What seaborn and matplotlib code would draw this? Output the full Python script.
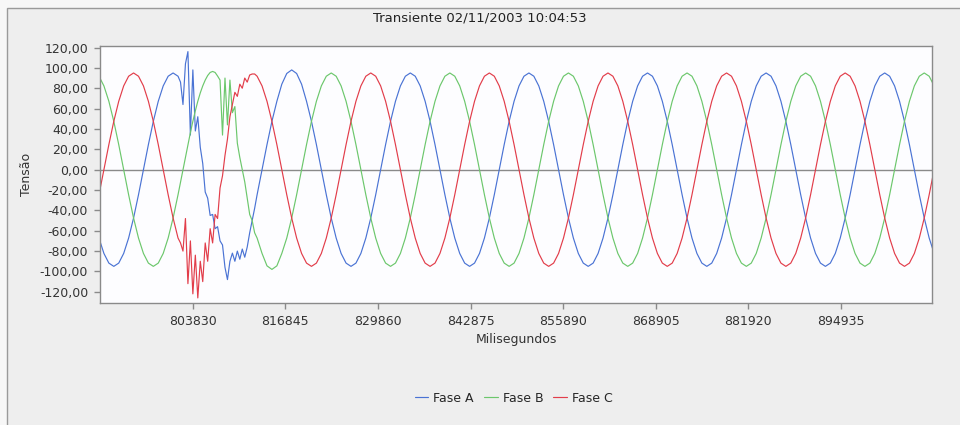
import numpy as np
import pandas as pd
import matplotlib.pyplot as plt
from matplotlib.patches import Rectangle
import seaborn as sns

# sampling: coarse grid of T/24, finer (T/48) inside the transient window
t_start = 790658
dt = 694.46

fases = ['Fase A', 'Fase B', 'Fase C']
cores = {'Fase A': '#4a73d4', 'Fase B': '#6cc76c', 'Fase C': '#e23d4a'}

# values (Tensão), before the transient
a_pre = [-67.2, -82.3, -91.8, -95.0, -91.8, -82.3, -67.2, -47.5, -24.6, 0.0, 24.6, 47.5,
         67.2, 82.3, 91.8, 95.0, 91.8]
b_pre = [91.8, 82.3, 67.2, 47.5, 24.6, 0.0, -24.6, -47.5, -67.2, -82.3, -91.8, -95.0,
         -91.8, -82.3, -67.2, -47.5, -24.6]
c_pre = [-24.6, 0.0, 24.6, 47.5, 67.2, 82.3, 91.8, 95.0, 91.8, 82.3, 67.2, 47.5,
         24.6, 0.0, -24.6, -47.5, -67.2]

# the transient (half-step samples)
a_tr = [86.0, 64.0, 104.0, 116.0, 34.0, 98.0, 38.0, 52.0, 22.0, 6.0, -22.0, -28.0,
        -45.0, -44.0, -58.0, -56.0, -70.0, -74.0, -96.0, -108.0, -90.0, -82.0, -90.0, -80.0,
        -88.0, -78.0, -86.0, -76.0, -62.0, -50.0, -38.0]
b_tr = [-12.4, 0.0, 12.4, 24.6, 36.4, 47.5, 57.8, 67.2, 75.4, 82.3, 88.0, 92.5,
        95.5, 96.5, 95.5, 92.0, 88.0, 34.0, 90.0, 44.0, 88.0, 56.0, 62.0, 26.0,
        12.0, 0.0, -12.0, -28.0, -44.0, -50.0, -62.0]
c_tr = [-72.0, -80.0, -48.0, -112.0, -70.0, -122.0, -84.0, -126.0, -90.0, -110.0, -72.0, -90.0,
        -58.0, -72.0, -44.0, -48.0, -18.0, -6.0, 14.0, 30.0, 52.0, 64.0, 76.0, 72.0,
        84.0, 80.0, 90.0, 86.0, 93.0, 94.0, 94.0]

# after the transient, one row per cycle
a_pos = [-24.6, 0.0, 24.6, 47.5, 67.2, 84.0, 94.5, 98.0, 94.5, 84.0, 67.2, 47.5, 24.6, 0.0, -24.6, -47.5, -67.2, -82.3, -91.8, -95.0, -91.8, -82.3, -67.2, -47.5,
         -24.6, 0.0, 24.6, 47.5, 67.2, 82.3, 91.8, 95.0, 91.8, 82.3, 67.2, 47.5, 24.6, 0.0, -24.6, -47.5, -67.2, -82.3, -91.8, -95.0, -91.8, -82.3, -67.2, -47.5,
         -24.6, 0.0, 24.6, 47.5, 67.2, 82.3, 91.8, 95.0, 91.8, 82.3, 67.2, 47.5, 24.6, 0.0, -24.6, -47.5, -67.2, -82.3, -91.8, -95.0, -91.8, -82.3, -67.2, -47.5,
         -24.6, 0.0, 24.6, 47.5, 67.2, 82.3, 91.8, 95.0, 91.8, 82.3, 67.2, 47.5, 24.6, 0.0, -24.6, -47.5, -67.2, -82.3, -91.8, -95.0, -91.8, -82.3, -67.2, -47.5,
         -24.6, 0.0, 24.6, 47.5, 67.2, 82.3, 91.8, 95.0, 91.8, 82.3, 67.2, 47.5, 24.6, 0.0, -24.6, -47.5, -67.2, -82.3, -91.8, -95.0, -91.8, -82.3, -67.2, -47.5,
         -24.6, 0.0, 24.6, 47.5, 67.2, 82.3, 91.8, 95.0, 91.8, 82.3, 67.2, 47.5, 24.6, 0.0, -24.6, -47.5, -67.2, -82.3]
b_pos = [-67.2, -82.3, -94.5, -98.0, -94.5, -82.3, -67.2, -47.5, -24.6, 0.0, 24.6, 47.5, 67.2, 82.3, 91.8, 95.0, 91.8, 82.3, 67.2, 47.5, 24.6, 0.0, -24.6, -47.5,
         -67.2, -82.3, -91.8, -95.0, -91.8, -82.3, -67.2, -47.5, -24.6, 0.0, 24.6, 47.5, 67.2, 82.3, 91.8, 95.0, 91.8, 82.3, 67.2, 47.5, 24.6, 0.0, -24.6, -47.5,
         -67.2, -82.3, -91.8, -95.0, -91.8, -82.3, -67.2, -47.5, -24.6, 0.0, 24.6, 47.5, 67.2, 82.3, 91.8, 95.0, 91.8, 82.3, 67.2, 47.5, 24.6, 0.0, -24.6, -47.5,
         -67.2, -82.3, -91.8, -95.0, -91.8, -82.3, -67.2, -47.5, -24.6, 0.0, 24.6, 47.5, 67.2, 82.3, 91.8, 95.0, 91.8, 82.3, 67.2, 47.5, 24.6, 0.0, -24.6, -47.5,
         -67.2, -82.3, -91.8, -95.0, -91.8, -82.3, -67.2, -47.5, -24.6, 0.0, 24.6, 47.5, 67.2, 82.3, 91.8, 95.0, 91.8, 82.3, 67.2, 47.5, 24.6, 0.0, -24.6, -47.5,
         -67.2, -82.3, -91.8, -95.0, -91.8, -82.3, -67.2, -47.5, -24.6, 0.0, 24.6, 47.5, 67.2, 82.3, 91.8, 95.0, 91.8, 82.3]
c_pos = [91.8, 82.3, 67.2, 47.5, 24.6, 0.0, -24.6, -47.5, -67.2, -82.3, -91.8, -95.0, -91.8, -82.3, -67.2, -47.5, -24.6, 0.0, 24.6, 47.5, 67.2, 82.3, 91.8, 95.0,
         91.8, 82.3, 67.2, 47.5, 24.6, 0.0, -24.6, -47.5, -67.2, -82.3, -91.8, -95.0, -91.8, -82.3, -67.2, -47.5, -24.6, 0.0, 24.6, 47.5, 67.2, 82.3, 91.8, 95.0,
         91.8, 82.3, 67.2, 47.5, 24.6, 0.0, -24.6, -47.5, -67.2, -82.3, -91.8, -95.0, -91.8, -82.3, -67.2, -47.5, -24.6, 0.0, 24.6, 47.5, 67.2, 82.3, 91.8, 95.0,
         91.8, 82.3, 67.2, 47.5, 24.6, 0.0, -24.6, -47.5, -67.2, -82.3, -91.8, -95.0, -91.8, -82.3, -67.2, -47.5, -24.6, 0.0, 24.6, 47.5, 67.2, 82.3, 91.8, 95.0,
         91.8, 82.3, 67.2, 47.5, 24.6, 0.0, -24.6, -47.5, -67.2, -82.3, -91.8, -95.0, -91.8, -82.3, -67.2, -47.5, -24.6, 0.0, 24.6, 47.5, 67.2, 82.3, 91.8, 95.0,
         91.8, 82.3, 67.2, 47.5, 24.6, 0.0, -24.6, -47.5, -67.2, -82.3, -91.8, -95.0, -91.8, -82.3, -67.2, -47.5, -24.6, 0.0]

x_ticks = [803830, 816845, 829860, 842875, 855890, 868905, 881920, 894935]
y_ticks = [-120, -100, -80, -60, -40, -20, 0, 20, 40, 60, 80, 100, 120]

# time axis
n_pre, n_tr, n_pos = len(a_pre), len(a_tr), len(a_pos)
ms = np.concatenate([
    t_start + dt * np.arange(n_pre),
    t_start + dt * (n_pre - 1 + np.arange(1, n_tr + 1) / 2),
    t_start + dt * np.arange(n_pre + 15, n_pre + 15 + n_pos),
])

rows = []
for fase, pre, tr, pos in zip(fases, [a_pre, b_pre, c_pre], [a_tr, b_tr, c_tr], [a_pos, b_pos, c_pos]):
    vals = pre + tr + pos
    rows.append(pd.DataFrame({'ms': ms, 'tensao': vals, 'fase': fase}))
df = pd.concat(rows, ignore_index=True)

sns.set_style('white')
plt.rcParams['font.family'] = ['DejaVu Sans']

fig = plt.figure(figsize=(9.6, 4.25), dpi=100)
fig.patch.set_facecolor('#f7f7f7')
fig.add_artist(Rectangle((7 / 960, -0.01), 1, 1 - 8 / 425 + 0.01, transform=fig.transFigure,
                         facecolor='#eeeeee', edgecolor='#9a9a9a', lw=1, zorder=-10))

ax = fig.add_axes([100 / 960, 1 - 303 / 425, 832 / 960, 257 / 425])
ax.set_facecolor('#fdfdff')

ax.axhline(0, color='#8a8a8a', lw=1, zorder=1)
sns.lineplot(data=df, x='ms', y='tensao', hue='fase', hue_order=fases, palette=cores,
             estimator=None, sort=False, lw=0.85, ax=ax, zorder=2)

ax.set_xlim(790803, 907723)
ax.set_ylim(-131, 121.5)
ax.set_xticks(x_ticks)
ax.set_xticklabels([str(v) for v in x_ticks])
ax.set_yticks(y_ticks)
ax.set_yticklabels([f'{v:.2f}'.replace('.', ',') for v in y_ticks])
ax.tick_params(axis='both', direction='out', length=4.5, width=1, color='#8a8a8a',
               labelsize=9, labelcolor='#333333', pad=4)
ax.tick_params(axis='both', which='both', bottom=True, left=True)
for s in ax.spines.values():
    s.set_color('#8a8a8a')
    s.set_linewidth(1)

ax.set_xlabel('Milisegundos', fontsize=9, color='#333333', labelpad=4)
ax.set_ylabel('Tensão', fontsize=9, color='#333333', labelpad=5)

fig.text(0.5, 1 - 18 / 425, 'Transiente 02/11/2003 10:04:53', ha='center', va='center',
         fontsize=9.5, color='#222222')

sns.move_legend(ax, 'center', bbox_to_anchor=(0.535, 1 - 398 / 425), bbox_transform=fig.transFigure,
                ncol=3, frameon=False, title=None, fontsize=9, handlelength=1.1,
                handletextpad=0.4, columnspacing=0.8)

plt.savefig('out.png', dpi=100, facecolor=fig.get_facecolor())
plt.close()
